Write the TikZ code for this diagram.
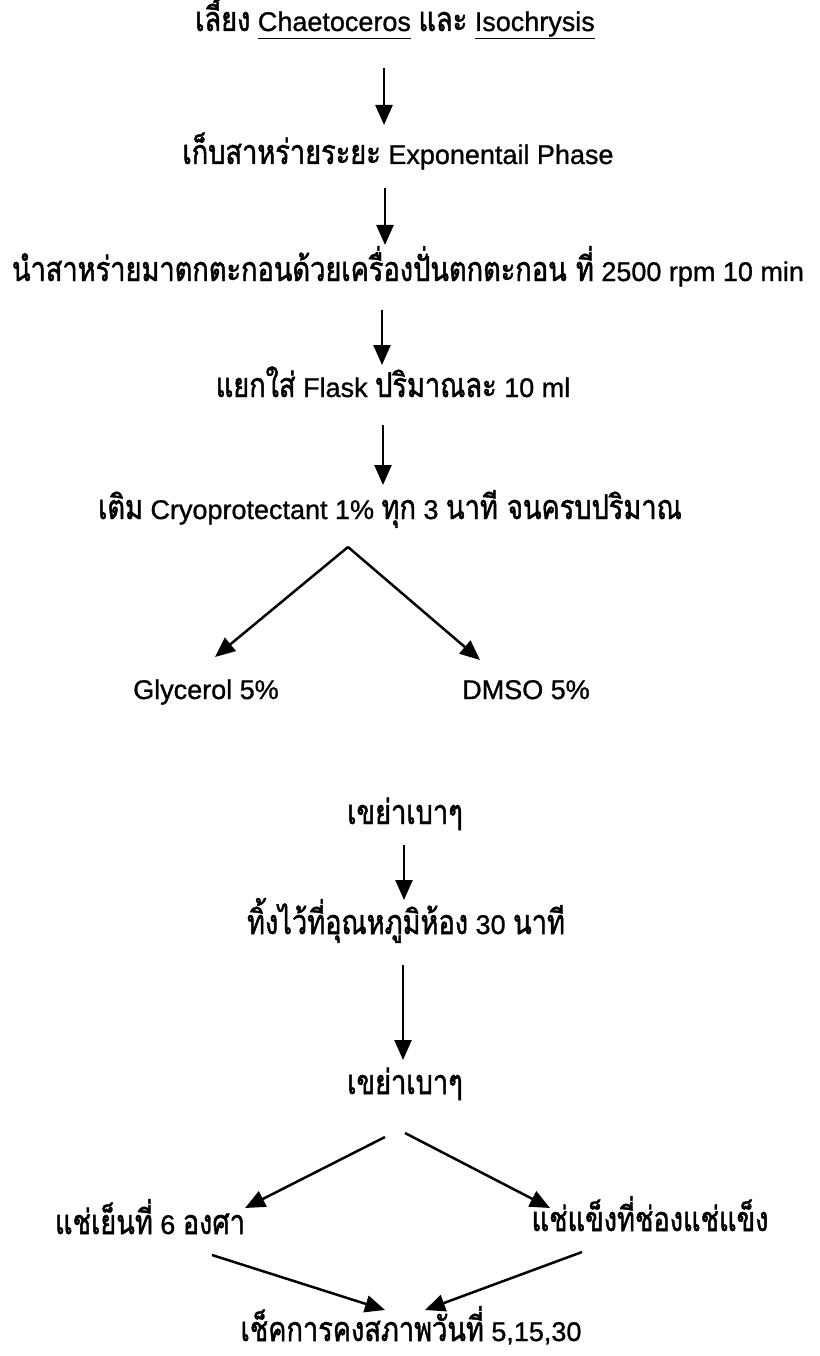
\documentclass[tikz,border=0pt]{standalone}
\usepackage{fontspec}
\setmainfont[FakeBold=1.0]{Liberation Sans}
\newfontfamily\thaifont[Script=Thai,FakeStretch=0.8,FakeBold=1.4]{Loma}
\usetikzlibrary{arrows.meta,calc}
\newcommand{\tha}[1]{{\thaifont\fontsize{34}{38}\selectfont #1}}
\newcommand{\ulword}[1]{\underline{#1\vphantom{y}}}

\begin{document}
\begin{tikzpicture}[x=1pt,y=-1pt,->,>={Triangle[length=20pt,width=17pt]},line width=2.5pt,
  text node/.style={anchor=base,inner sep=0pt,font=\fontsize{27}{30}\selectfont}]
  \useasboundingbox (0,0) rectangle (819,1356);

  \node[text node] (1) at (395,31) {\tha{เลี้ยง} \ulword{Chaetoceros} \tha{และ} \ulword{Isochrysis}};
  \node[text node] (2) at (398,164) {\tha{เก็บสาหร่ายระยะ} Exponentail Phase};
  \node[text node] (3) at (408,281) {\tha{นำสาหร่ายมาตกตะกอนด้วยเครื่องปั่นตกตะกอน ที่} 2500 rpm 10 min};
  \node[text node] (4) at (393,397) {\tha{แยกใส่} Flask \tha{ปริมาณละ} 10 ml};
  \node[text node] (5) at (390,519) {\tha{เติม} Cryoprotectant 1\% \tha{ทุก} 3 \tha{นาที จนครบปริมาณ}};
  \node[text node] (6) at (206,699) {Glycerol 5\%};
  \node[text node] (7) at (526,699) {DMSO 5\%};
  \node[text node] (8) at (405,824) {\tha{เขย่าเบาๆ}};
  \node[text node] (9) at (406,934) {\tha{ทิ้งไว้ที่อุณหภูมิห้อง} 30 \tha{นาที}};
  \node[text node] (10) at (405,1094) {\tha{เขย่าเบาๆ}};
  \node[text node] (11) at (150,1234) {\tha{แช่เย็นที่} 6 \tha{องศา}};
  \node[text node] (12) at (650,1231) {\tha{แช่แข็งที่ช่องแช่แข็ง}};
  \node[text node] (13) at (411,1341) {\tha{เช็คการคงสภาพวันที่} 5,15,30};

\path
  ($(1.base)+(-11,37)$) edge ($(2.base)+(-14,-39)$)
  ($(2.base)+(-13,24)$) edge ($(3.base)+(-23,-36)$)
  ($(3.base)+(-26,29)$) edge ($(4.base)+(-11,-32)$)
  ($(4.base)+(-10,28)$) edge ($(5.base)+(-7,-34)$)
  ($(5.base)+(-42,28)$) edge ($(6.base)+(9,-42)$)
  ($(5.base)+(-42,28)$) edge ($(7.base)+(-46,-39)$)
  ($(8.base)+(-1,21)$) edge ($(9.base)+(-2,-34)$)
  ($(9.base)+(-3,31)$) edge ($(10.base)+(-2,-34)$)
  ($(10.base)+(-20,43)$) edge ($(11.base)+(95,-26)$)
  ($(10.base)+(0,39)$) edge ($(12.base)+(-100,-23)$)
  ($(11.base)+(62,21)$) edge ($(13.base)+(-26,-31)$)
  ($(12.base)+(-68,21)$) edge ($(13.base)+(14,-31)$)
;
\end{tikzpicture}
\end{document}
